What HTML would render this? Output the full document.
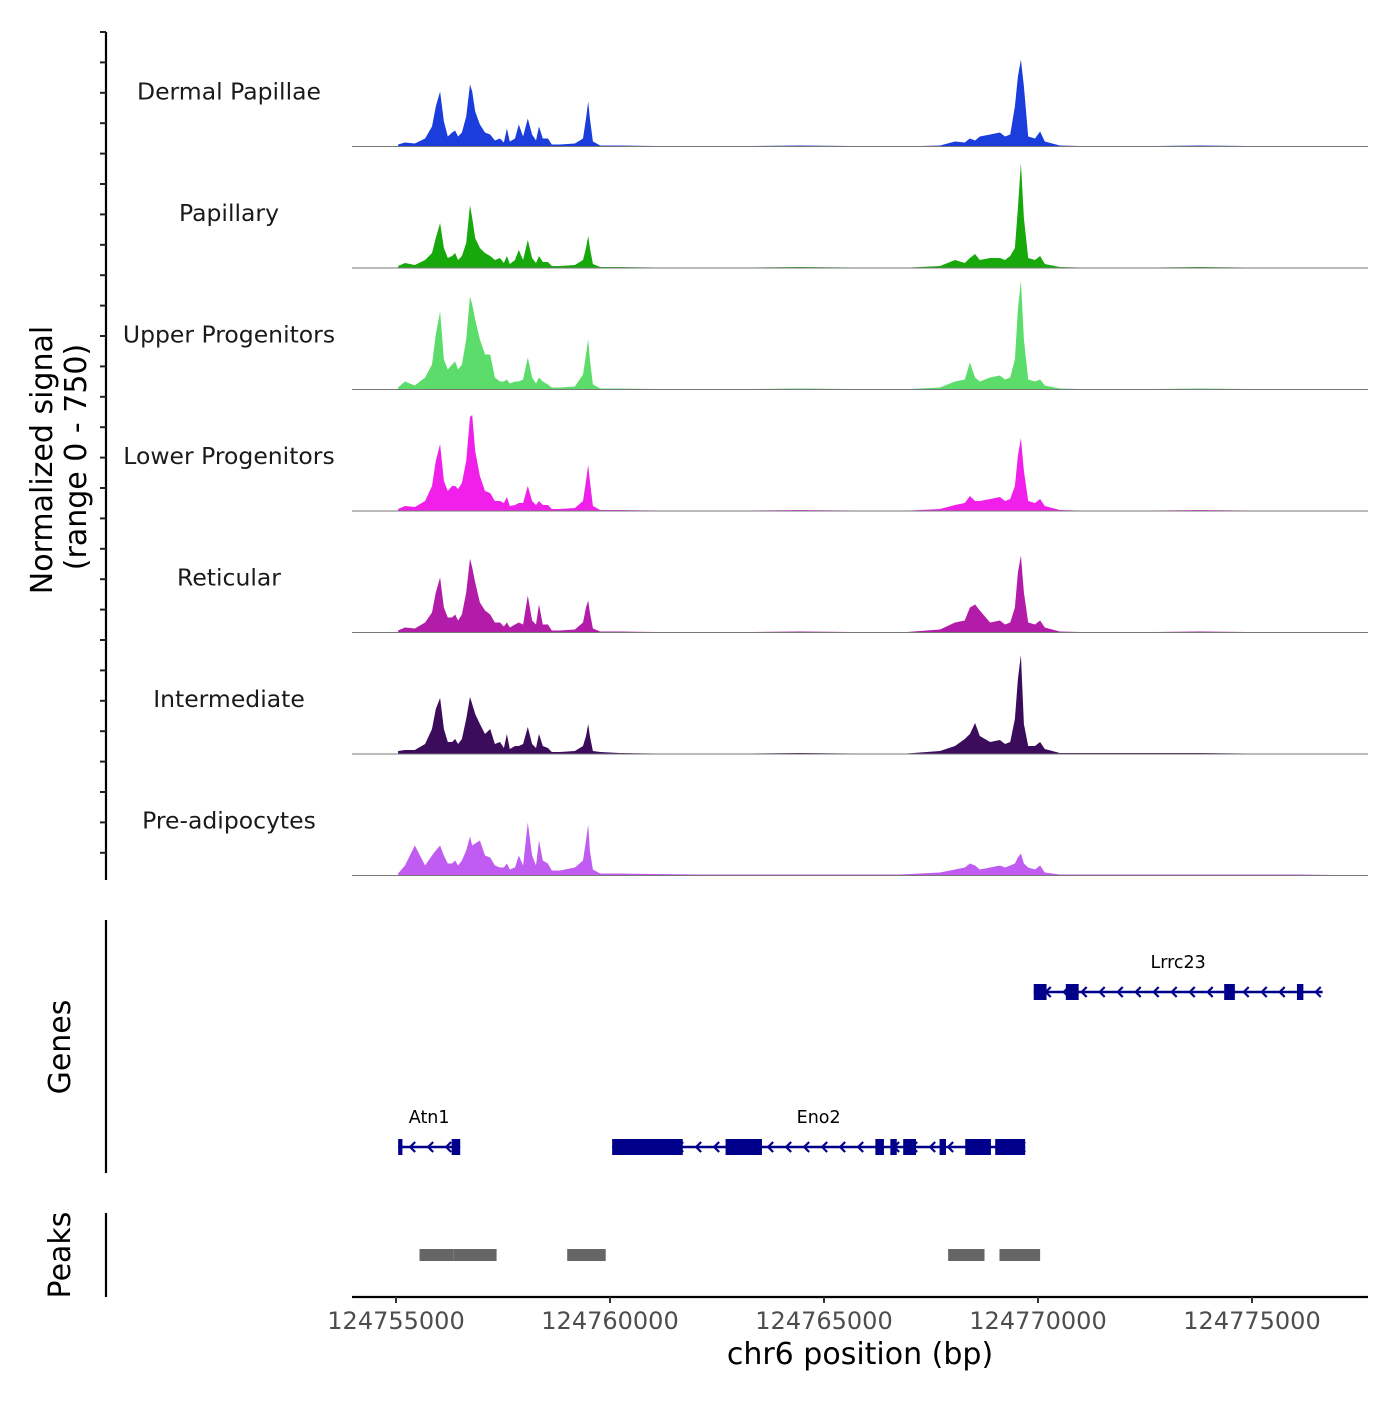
<!DOCTYPE html>
<html><head><meta charset="utf-8"><style>
html,body{margin:0;padding:0;background:#fff}
svg text{font-family:"DejaVu Sans","Liberation Sans",sans-serif}
</style></head><body>
<svg id="c" width="1400" height="1400" viewBox="0 0 1400 1400" xmlns="http://www.w3.org/2000/svg"></svg>
<script>
const trackNames = ["Dermal Papillae","Papillary","Upper Progenitors","Lower Progenitors","Reticular","Intermediate","Pre-adipocytes"];
const trackColors = ["#1a3ddc","#17a80b","#5cdc6a","#f020ea","#b21ca8","#3b0b5c","#c05cf2"];
const positions = [124755050,124755210,124755440,124755680,124755840,124755930,124756030,124756120,124756210,124756310,124756380,124756450,124756540,124756640,124756730,124756780,124756850,124756960,124757080,124757200,124757310,124757430,124757520,124757590,124757660,124757780,124757870,124757970,124758080,124758180,124758270,124758340,124758430,124758550,124758640,124758830,124759180,124759370,124759440,124759490,124759530,124759600,124759770,124760230,124762100,124764440,124766780,124767710,124768060,124768290,124768410,124768530,124768640,124768880,124769110,124769230,124769350,124769460,124769530,124769600,124769670,124769770,124769930,124770050,124770160,124770510,124771450,124773780,124776120,124777710];
const sigDermal = [2,4,3,8,20,40,55,25,10,14,16,10,14,30,62,55,35,22,14,12,6,8,4,18,5,8,22,10,28,12,6,20,8,8,2,2,3,8,28,45,28,5,1,1,0,1,0,1,5,4,8,6,10,12,14,10,12,40,70,87,60,10,8,15,5,1,0,1,0,0];
const sigPapillary = [2,5,3,8,15,30,45,20,10,12,15,8,12,25,63,50,30,20,15,12,8,10,5,12,4,8,18,8,28,10,5,12,6,6,2,2,3,8,20,32,20,4,1,1,0,1,0,2,8,5,10,14,8,10,10,8,12,20,60,105,50,10,8,12,4,1,0,1,0,0];
const sigUpper = [2,8,4,12,25,55,78,30,20,25,28,20,25,50,93,85,70,50,35,35,12,8,8,10,6,8,8,10,32,12,6,12,8,5,2,2,3,15,35,50,30,5,1,1,0,1,0,2,8,10,27,12,8,12,14,10,12,30,80,109,50,10,8,10,4,1,0,1,0,0];
const sigLower = [2,5,4,10,25,50,67,30,20,25,25,22,28,50,94,96,60,35,20,18,10,10,8,14,5,6,8,8,25,10,6,10,6,6,2,2,3,10,30,46,30,5,1,1,0,1,0,2,6,8,15,10,10,12,14,10,12,25,55,73,40,10,8,12,5,1,0,1,0,0];
const sigReticular = [2,5,4,10,20,40,55,25,15,15,18,12,18,40,74,65,50,30,22,18,10,10,6,10,5,8,10,8,37,12,8,28,8,8,2,2,3,10,25,32,20,4,1,1,0,1,0,3,10,12,25,28,22,10,12,8,10,25,60,77,40,10,8,12,5,1,0,1,0,0];
const sigIntermediate = [3,4,4,10,25,45,56,25,12,12,15,10,15,35,57,50,40,30,20,25,10,12,6,20,5,8,8,10,27,10,6,20,8,6,2,2,3,8,18,30,18,3,2,1,0,1,0,3,8,15,20,31,18,12,14,10,12,35,75,99,30,8,8,12,5,1,1,1,0,0];
const sigPre = [2,10,30,10,20,25,30,20,12,12,15,10,15,25,39,30,32,35,20,18,10,8,8,12,6,8,20,10,53,20,10,35,15,12,5,5,8,15,35,51,25,6,2,2,1,1,1,3,6,8,12,10,6,8,10,8,10,12,18,22,12,8,6,10,3,1,1,1,1,0];
const xTicks = [124755000,124760000,124765000,124770000,124775000];
const geneNames = ["Lrrc23","Atn1","Eno2"];
const geneStart = [124769900,124755050,124760050];
const geneEnd = [124776650,124756500,124769700];
const geneRow = [0,1,1];
const exonStart = [124769900,124770650,124774350,124776050,124755050,124756300,124760050,124761300,124762700,124763350,124766200,124766550,124766850,124767700,124768300,124769000];
const exonEnd = [124770200,124770950,124774600,124776200,124755150,124756500,124761400,124761700,124763500,124763550,124766400,124766700,124767150,124767850,124768900,124769700];
const exonRow = [0,0,0,0,1,1,1,1,1,1,1,1,1,1,1,1];
const peakStart = [124755550,124756350,124759000,124767900,124769100];
const peakEnd = [124756350,124757350,124759900,124768750,124770050];

const svg=document.getElementById('c');const NS="http://www.w3.org/2000/svg";
function mk(t,a,p){const e=document.createElementNS(NS,t);for(const k in a)e.setAttribute(k,a[k]);(p||svg).appendChild(e);return e;}
const X0=352,X1=1368;
function xs(bp){return 396+(bp-124755000)*0.0428;}
const trackTop=25,trackH=121.5;
function ys(i,v){return trackTop+trackH*(i+1)-v*1.0;}
const allSig=[sigDermal,sigPapillary,sigUpper,sigLower,sigReticular,sigIntermediate,sigPre];
let ax=mk('line',{x1:106,y1:32,x2:106,y2:880,stroke:'#000','stroke-width':2.2});

for(let y=32;y<=880;y+=30.4){const t=mk('line',{x1:100,y1:y,x2:106,y2:y,stroke:'#222','stroke-width':2});}
const yt=mk('text',{transform:'translate(52,460) rotate(-90)','text-anchor':'middle','font-size':30,fill:'#000'});

yt.textContent='Normalized signal';
const yt2=mk('text',{transform:'translate(86,457) rotate(-90)','text-anchor':'middle','font-size':30,fill:'#000'});

yt2.textContent='(range 0 - 750)';
allSig.forEach((s,i)=>{
  const base=ys(i,0);
  let d='M'+xs(positions[0])+','+base;
  s.forEach((v,j)=>{d+=' L'+xs(positions[j]).toFixed(1)+','+ys(i,v).toFixed(1);});
  d+=' L'+xs(positions[positions.length-1])+','+base+' Z';
  const p=mk('path',{d:d,fill:trackColors[i]});
  
  const l=mk('line',{x1:X0,y1:base,x2:X1,y2:base,stroke:'#777','stroke-width':1});
  
  const t=mk('text',{x:229,y:base-47,'text-anchor':'middle','font-size':23.5,fill:'#1a1a1a'});
  
  t.textContent=trackNames[i];
});
const ga=mk('line',{x1:106,y1:920,x2:106,y2:1173,stroke:'#000','stroke-width':2.2});

const gt=mk('text',{transform:'translate(70,1047) rotate(-90)','text-anchor':'middle','font-size':30});
gt.textContent='Genes';
const rowY=[992,1147];const GC='#00008b';
geneNames.forEach((n,i)=>{
  const y=rowY[geneRow[i]],a=xs(geneStart[i]),b=xs(geneEnd[i]);
  const l=mk('line',{x1:a,y1:y,x2:b,y2:y,stroke:GC,'stroke-width':2.5});
  
  for(let x=a+12;x<b-4;x+=18){const c=mk('path',{d:`M${x+5},${y-5} L${x},${y} L${x+5},${y+5}`,stroke:GC,fill:'none','stroke-width':2.2});}
  const t=mk('text',{x:(a+b)/2,y:y-24,'text-anchor':'middle','font-size':17.5});
  t.textContent=n;
});
exonStart.forEach((s,i)=>{
  const y=rowY[exonRow[i]],a=xs(s),b=xs(exonEnd[i]);
  const r=mk('rect',{x:a,y:y-8,width:Math.max(b-a,4),height:16,fill:GC});
  
});
const pa=mk('line',{x1:106,y1:1213,x2:106,y2:1297,stroke:'#000','stroke-width':2.2});

const pt=mk('text',{transform:'translate(70,1255) rotate(-90)','text-anchor':'middle','font-size':30});
pt.textContent='Peaks';
peakStart.forEach((s,i)=>{
  const r=mk('rect',{x:xs(s),y:1249,width:xs(peakEnd[i])-xs(s),height:12,fill:'#666'});
  
});
const xa=mk('line',{x1:X0,y1:1297,x2:X1,y2:1297,stroke:'#000','stroke-width':2.2});

xTicks.forEach(v=>{
  const x=xs(v);
  const t=mk('line',{x1:x,y1:1297,x2:x,y2:1303,stroke:'#333','stroke-width':2});
  
  const l=mk('text',{x:x,y:1329,'text-anchor':'middle','font-size':24,fill:'#4d4d4d'});
  l.textContent=v;
});
const xt=mk('text',{x:860,y:1364,'text-anchor':'middle','font-size':30});
xt.textContent='chr6 position (bp)';
</script>
</body></html>
